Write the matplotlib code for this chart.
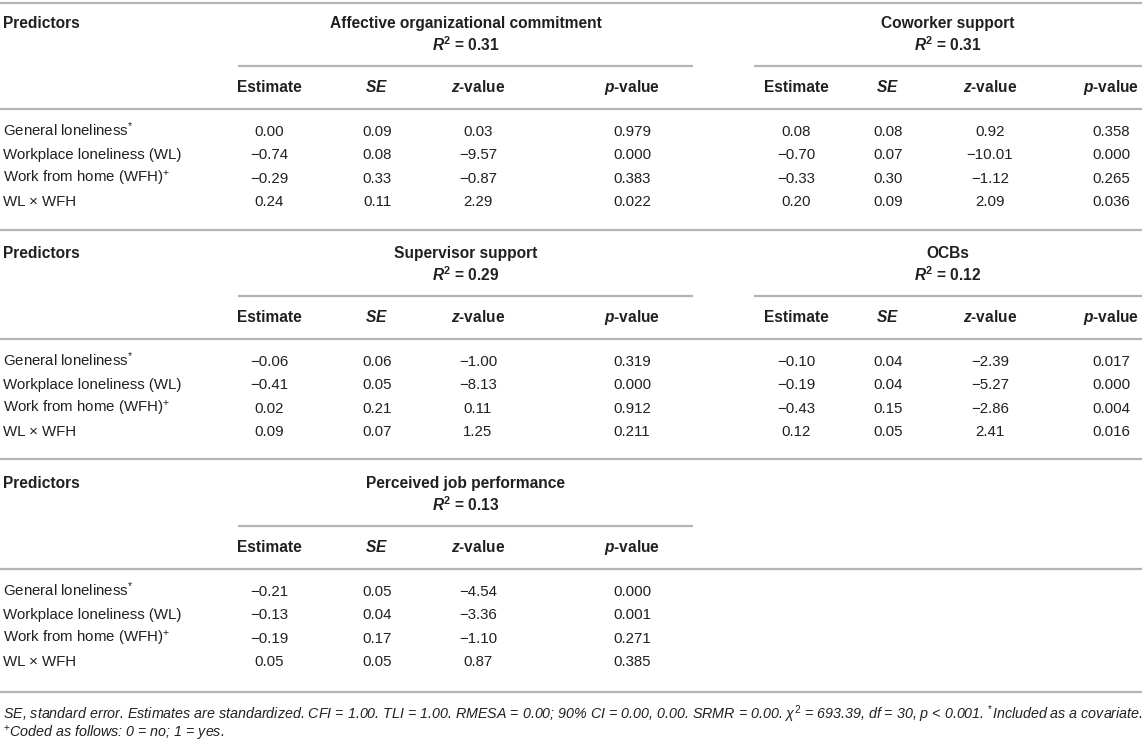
import matplotlib
matplotlib.use("Agg")
import matplotlib.pyplot as plt

plt.rcParams['font.family'] = ['Liberation Sans', 'DejaVu Sans']
plt.rcParams['mathtext.fontset'] = 'custom'
plt.rcParams['mathtext.rm'] = 'Liberation Sans'
plt.rcParams['mathtext.it'] = 'Liberation Sans:italic'
plt.rcParams['mathtext.bf'] = 'Liberation Sans:bold'
plt.rcParams['mathtext.bfit'] = 'Liberation Sans:bold:italic'

predictors = [
    'General loneliness$^{*}$',
    'Workplace loneliness (WL)',
    'Work from home (WFH)$^{+}$',
    'WL \u00d7 WFH',
]
col_heads = ['Estimate', '$\\mathbfit{SE}$', '$\\mathbfit{z}$-value', '$\\mathbfit{p}$-value']

# outcome models: name, R2, rows of (estimate, SE, z, p)
affective_name, affective_r2 = 'Affective organizational commitment', '0.31'
affective = [
    ['0.00', '0.09', '0.03', '0.979'],
    ['\u22120.74', '0.08', '\u22129.57', '0.000'],
    ['\u22120.29', '0.33', '\u22120.87', '0.383'],
    ['0.24', '0.11', '2.29', '0.022'],
]
coworker_name, coworker_r2 = 'Coworker support', '0.31'
coworker = [
    ['0.08', '0.08', '0.92', '0.358'],
    ['\u22120.70', '0.07', '\u221210.01', '0.000'],
    ['\u22120.33', '0.30', '\u22121.12', '0.265'],
    ['0.20', '0.09', '2.09', '0.036'],
]
supervisor_name, supervisor_r2 = 'Supervisor support', '0.29'
supervisor = [
    ['\u22120.06', '0.06', '\u22121.00', '0.319'],
    ['\u22120.41', '0.05', '\u22128.13', '0.000'],
    ['0.02', '0.21', '0.11', '0.912'],
    ['0.09', '0.07', '1.25', '0.211'],
]
ocb_name, ocb_r2 = 'OCBs', '0.12'
ocb = [
    ['\u22120.10', '0.04', '\u22122.39', '0.017'],
    ['\u22120.19', '0.04', '\u22125.27', '0.000'],
    ['\u22120.43', '0.15', '\u22122.86', '0.004'],
    ['0.12', '0.05', '2.41', '0.016'],
]
perf_name, perf_r2 = 'Perceived job performance', '0.13'
perf = [
    ['\u22120.21', '0.05', '\u22124.54', '0.000'],
    ['\u22120.13', '0.04', '\u22123.36', '0.001'],
    ['\u22120.19', '0.17', '\u22121.10', '0.271'],
    ['0.05', '0.05', '0.87', '0.385'],
]

blocks = [
    [(affective_name, affective_r2, affective), (coworker_name, coworker_r2, coworker)],
    [(supervisor_name, supervisor_r2, supervisor), (ocb_name, ocb_r2, ocb)],
    [(perf_name, perf_r2, perf)],
]

footnote1 = ('SE, standard error. Estimates are standardized. CFI = 1.00. TLI = 1.00. '
             'RMESA = 0.00; 90% CI = 0.00, 0.00. SRMR = 0.00. $\\chi^{2}$ = 693.39, '
             'df = 30, p < 0.001. $^{*}$Included as a covariate.')
footnote2 = '$^{+}$Coded as follows: 0 = no; 1 = yes.'

W, H = 1142, 743
fig = plt.figure(figsize=(W / 100, H / 100), dpi=100)
ax = fig.add_axes([0, 0, 1, 1])
ax.set_xlim(0, W)
ax.set_ylim(H, 0)
ax.axis('off')

txt = '#231f20'
rule = '#b3b3b3'
fs = 10.8
fs_bold = 11.2

# column geometry (pixels)
group_cols = [[269, 377, 478, 632], [796, 888, 990, 1111]]
group_span = [(238, 693), (754, 1142)]
block_top = [0, 230, 460]
block_end = [230, 459, 692]
row_step = 23.4

def put(x, y, s, bold=False, **kw):
    # y is the visual middle of the text line
    if bold:
        kw.update(fontweight='bold', fontsize=fs_bold)
    else:
        kw.update(fontsize=fs)
    ax.text(x, y + 5, s, va='baseline', color=txt, **kw)

ax.hlines(3, 0, W, color=rule, lw=1.6)
for b, groups in enumerate(blocks):
    y0 = block_top[b]
    put(3, y0 + 23, 'Predictors', bold=True)
    for g, (name, r2, rows) in enumerate(groups):
        x1, x2 = group_span[g]
        xc = (x1 + x2) / 2
        put(xc, y0 + 23, name, bold=True, ha='center')
        put(xc, y0 + 46, '$\\mathbfit{R}^{\\mathbf{2}}$ = ' + r2, bold=True, ha='center')
        ax.hlines(y0 + 66, x1, x2, color=rule, lw=1.6)
        for c, head in enumerate(col_heads):
            put(group_cols[g][c], y0 + 87, head, bold=True, ha='center')
        for r, vals in enumerate(rows):
            for c, v in enumerate(vals):
                put(group_cols[g][c], y0 + 131 + r * row_step, v, ha='center')
    ax.hlines(y0 + 109, 0, W, color=rule, lw=1.6)
    for r, p in enumerate(predictors):
        put(3, y0 + 131 + r * row_step, p)
    ax.hlines(block_end[b], 0, W, color=rule, lw=1.6)

ax.text(3, 715 + 4, footnote1, va='baseline', color=txt, fontsize=10.25, style='italic')
ax.text(3, 734 + 4, footnote2, va='baseline', color=txt, fontsize=10.25, style='italic')

fig.savefig('out.png', dpi=100)
